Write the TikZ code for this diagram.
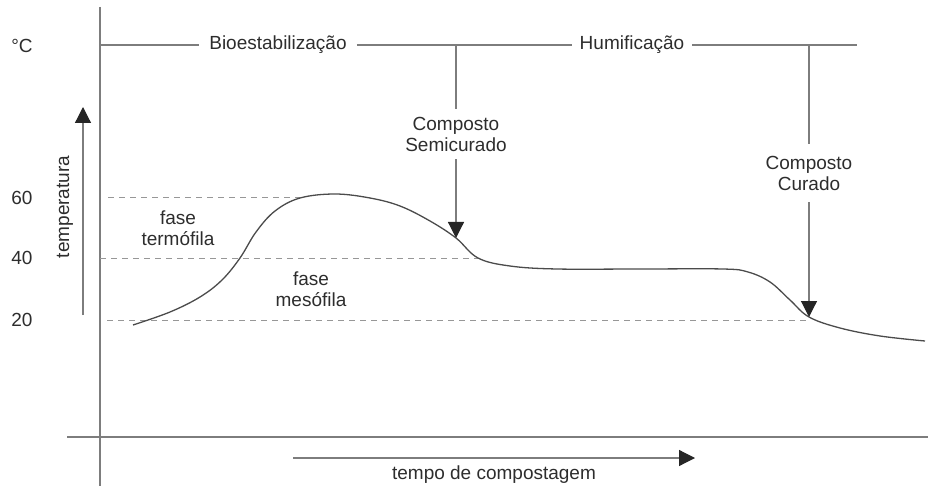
\documentclass[tikz,border=0pt]{standalone}
\usepackage{fontspec}
\setmainfont{Liberation Sans}
\usetikzlibrary{arrows.meta, positioning, calc}
\definecolor{axisgray}{RGB}{125,125,125}
\definecolor{curvegray}{RGB}{75,75,75}
\definecolor{textgray}{RGB}{45,45,45}

\begin{document}
\begin{tikzpicture}[x=1pt, y=-1pt,
    lbl/.style={font=\fontsize{19}{21}\selectfont, text=textgray, inner sep=1pt, align=center},
    axisline/.style={axisgray, line width=1.2pt},
    guide/.style={axisgray!80, line width=1pt, dash pattern=on 6pt off 5pt},
    pointer/.style={axisgray, line width=1.2pt, -{Triangle[width=16pt, length=16pt, color=black!85]}}]
  \useasboundingbox (0,0) rectangle (928,486);

  % axes
  \draw[axisline] (100,7) -- (100,486);
  \draw[axisline] (67,437) -- (928,437);
  \node[lbl] (unit) at (22,46) {°C};

  % phases on top
  \node[lbl, inner xsep=10pt] (bio) at (278,45) {Bioestabilização};
  \node[lbl, inner xsep=8pt] (hum) at (632,45) {Humificação};
  \draw[axisline] (100,45) -- (bio.west);
  \draw[axisline] (bio.east) -- (hum.west);
  \draw[axisline] (hum.east) -- (857,45);

  % temperature levels
  \foreach \t/\y/\xs/\xe in {60/198/108/300, 40/258/100/478, 20/320/107/809} {
    \node[lbl] (t\t) at (22,\y) {\t};
    \draw[guide] (\xs,\y) -- (\xe,\y);
  }

  \node[lbl] (termo) at (178,228) {fase\\termófila};
  \node[lbl] (meso) at (311,289) {fase\\mesófila};

  % temperature curve
  \draw[curvegray, line width=1.3pt] plot[smooth, tension=0.6] coordinates {
    (133,325) (170,312) (200,297) (222,280) (240,258) (256,232) (275,211)
    (300,198) (335,194) (370,198) (400,206) (430,221) (456,238) (478,258)
    (510,266) (557,269) (640,269) (723,269) (748,272) (770,282) (790,300)
    (809,317) (840,328) (880,336) (925,341)};

  % composto semicurado / curado
  \coordinate (semitop) at (456,45);
  \coordinate (semitip) at (456,238);
  \node[lbl, inner ysep=8pt] (semi) at (456,134) {Composto\\Semicurado};
  \draw[axisline] (semitop) -- (semi.north);
  \draw[pointer] (semi.south) -- (semitip);

  \coordinate (curtop) at (809,45);
  \coordinate (curtip) at (809,317);
  \node[lbl, inner ysep=12pt] (cur) at (809,173) {Composto\\Curado};
  \draw[axisline] (curtop) -- (cur.north);
  \draw[pointer] (cur.south) -- (curtip);

  % axis arrows
  \coordinate (tempbot) at (83,315);
  \coordinate (temptop) at (83,107);
  \draw[pointer] (tempbot) -- (temptop);
  \node[lbl, rotate=90] (temp) at (65,207) {temperatura};

  \coordinate (timestart) at (293,458);
  \coordinate (timeend) at (695,458);
  \draw[pointer] (timestart) -- (timeend);
  \node[lbl] (time) at (494,475) {tempo de compostagem};
\end{tikzpicture}
\end{document}
